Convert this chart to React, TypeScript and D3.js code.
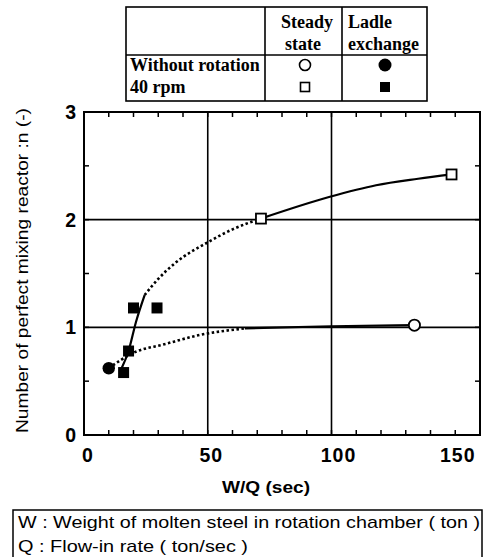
import React, { useRef, useEffect } from 'react';
import * as d3 from 'd3';

// measured points
const steadyNoRotation = [{ x: 133.5, y: 1.02 }];
const ladleNoRotation = [{ x: 10, y: 0.62 }];
const steady40rpm = [{ x: 71.5, y: 2.01 }, { x: 148.5, y: 2.42 }];
const ladle40rpm = [
    { x: 16, y: 0.58 },
    { x: 18, y: 0.78 },
    { x: 20, y: 1.18 },
    { x: 29.5, y: 1.18 },
];

// hand-drawn fit curves
const fit40Solid = [[15.2, 0.62], [18, 0.78], [21, 1.05], [24.5, 1.3]];
const fit40Dotted = [[24.5, 1.3], [30, 1.45], [37, 1.6], [50, 1.79], [60, 1.91], [71.5, 2.01]];
const fit40Upper = [[71.5, 2.01], [99, 2.21], [118, 2.32], [135, 2.38], [148.5, 2.42]];
const fitNoRotDotted = [[10, 0.62], [20.6, 0.77], [32, 0.84], [47, 0.93], [65, 0.99]];
const fitNoRotSolid = [[65, 0.99], [100, 1.01], [133.5, 1.02]];

const xTicks = [0, 50, 100, 150];
const yTicks = [0, 1, 2, 3];
const gridX = [50, 100];
const gridY = [1, 2];

const xLabel = 'W/Q (sec)';
const yLabel = 'Number of perfect mixing reactor :n (-)';
const notes = [
    'W : Weight of molten steel in rotation chamber ( ton )',
    'Q : Flow-in rate ( ton/sec )',
];

const sans = 'Liberation Sans, Arial, sans-serif';
const serif = 'Liberation Serif, Times New Roman, serif';

const App = () => {
    const ref = useRef(null);

    useEffect(() => {
        const svg = d3.select(ref.current);
        svg.selectAll('*').remove();

        const plot = { left: 84, right: 480, top: 112, bottom: 435 };
        const x = d3.scaleLinear().domain([0, 160]).range([plot.left, plot.right]);
        const y = d3.scaleLinear().domain([0, 3]).range([plot.bottom, plot.top]);

        // grid
        gridX.forEach(v => {
            svg.append('line').attr('x1', x(v)).attr('x2', x(v))
                .attr('y1', plot.top).attr('y2', plot.bottom)
                .attr('stroke', '#000').attr('stroke-width', 1.6);
        });
        gridY.forEach(v => {
            svg.append('line').attr('x1', plot.left).attr('x2', plot.right)
                .attr('y1', y(v)).attr('y2', y(v))
                .attr('stroke', '#000').attr('stroke-width', 1.6);
        });

        // minor ticks, inward on all sides
        const tl = 5;
        d3.range(10, 160, 10).forEach(v => {
            svg.append('line').attr('x1', x(v)).attr('x2', x(v))
                .attr('y1', plot.bottom).attr('y2', plot.bottom - tl)
                .attr('stroke', '#000').attr('stroke-width', 1.5);
            svg.append('line').attr('x1', x(v)).attr('x2', x(v))
                .attr('y1', plot.top).attr('y2', plot.top + tl)
                .attr('stroke', '#000').attr('stroke-width', 1.5);
        });
        d3.range(0.5, 3, 0.5).forEach(v => {
            svg.append('line').attr('x1', plot.left).attr('x2', plot.left + tl)
                .attr('y1', y(v)).attr('y2', y(v))
                .attr('stroke', '#000').attr('stroke-width', 1.5);
            svg.append('line').attr('x1', plot.right).attr('x2', plot.right - tl)
                .attr('y1', y(v)).attr('y2', y(v))
                .attr('stroke', '#000').attr('stroke-width', 1.5);
        });

        // frame
        svg.append('rect')
            .attr('x', plot.left).attr('y', plot.top)
            .attr('width', plot.right - plot.left).attr('height', plot.bottom - plot.top)
            .attr('fill', 'none').attr('stroke', '#000').attr('stroke-width', 2);

        // tick labels
        const xOff = [4, 3.5, 7, 2.5];
        xTicks.forEach((v, i) => {
            svg.append('text').attr('x', x(v) + xOff[i]).attr('y', 462)
                .attr('text-anchor', 'middle').attr('font-family', sans)
                .attr('font-weight', 'bold').attr('font-size', 19.5)
                .attr('letter-spacing', 1)
                .text(v);
        });
        yTicks.forEach(v => {
            svg.append('text').attr('x', 76).attr('y', y(v) + 7)
                .attr('text-anchor', 'end').attr('font-family', sans)
                .attr('font-weight', 'bold').attr('font-size', 19.5)
                .text(v);
        });

        // axis titles
        svg.append('text').attr('x', 222).attr('y', 493)
            .attr('font-family', sans).attr('font-weight', 'bold')
            .attr('font-size', 16)
            .attr('textLength', 88).attr('lengthAdjust', 'spacingAndGlyphs')
            .text(xLabel);
        svg.append('text')
            .attr('transform', 'translate(28,433) rotate(-90)')
            .attr('font-family', sans).attr('font-size', 16.5)
            .attr('textLength', 325).attr('lengthAdjust', 'spacingAndGlyphs')
            .text(yLabel);

        // curves
        const line = d3.line().x(d => x(d[0])).y(d => y(d[1])).curve(d3.curveMonotoneX);
        const drawCurve = (pts, dotted) => {
            svg.append('path').attr('d', line(pts))
                .attr('fill', 'none').attr('stroke', '#000')
                .attr('stroke-width', dotted ? 2.6 : 2.2)
                .attr('stroke-dasharray', dotted ? '2.5,2.5' : null);
        };
        drawCurve(fitNoRotDotted, true);
        drawCurve(fitNoRotSolid, false);
        drawCurve(fit40Solid, false);
        drawCurve(fit40Dotted, true);
        drawCurve(fit40Upper, false);

        // markers
        ladleNoRotation.forEach(d => {
            svg.append('circle').attr('cx', x(d.x)).attr('cy', y(d.y)).attr('r', 6.2)
                .attr('fill', '#000');
        });
        steadyNoRotation.forEach(d => {
            svg.append('circle').attr('cx', x(d.x)).attr('cy', y(d.y)).attr('r', 5.6)
                .attr('fill', '#fff').attr('stroke', '#000').attr('stroke-width', 1.8);
        });
        ladle40rpm.forEach(d => {
            svg.append('rect').attr('x', x(d.x) - 5.5).attr('y', y(d.y) - 5.5)
                .attr('width', 11).attr('height', 11).attr('fill', '#000');
        });
        steady40rpm.forEach(d => {
            svg.append('rect').attr('x', x(d.x) - 5).attr('y', y(d.y) - 5)
                .attr('width', 10).attr('height', 10)
                .attr('fill', '#fff').attr('stroke', '#000').attr('stroke-width', 1.8);
        });

        // legend table
        const t = { left: 126, right: 427, c1: 265, c2: 342, top: 7, mid: 55, bottom: 101 };
        const tbl = svg.append('g');
        tbl.append('rect').attr('x', t.left).attr('y', t.top)
            .attr('width', t.right - t.left).attr('height', t.bottom - t.top)
            .attr('fill', 'none').attr('stroke', '#000').attr('stroke-width', 1.6);
        tbl.append('line').attr('x1', t.left).attr('x2', t.right).attr('y1', t.mid).attr('y2', t.mid)
            .attr('stroke', '#000').attr('stroke-width', 1.5);
        [t.c1, t.c2].forEach(cx => {
            tbl.append('line').attr('x1', cx).attr('x2', cx).attr('y1', t.top).attr('y2', t.bottom)
                .attr('stroke', '#000').attr('stroke-width', 1.6);
        });
        const ttext = (tx, ty, s, anchor = 'start') => tbl.append('text')
            .attr('x', tx).attr('y', ty).attr('text-anchor', anchor)
            .attr('font-family', serif).attr('font-weight', 'bold').attr('font-size', 18)
            .text(s);
        ttext(307, 28, 'Steady', 'middle');
        ttext(303, 50, 'state', 'middle');
        ttext(t.c2 + 6, 28, 'Ladle');
        ttext(t.c2 + 6, 50, 'exchange');
        ttext(t.left + 4, 71, 'Without rotation');
        ttext(t.left + 4, 93, '40 rpm');
        const m1 = 305;
        const m2 = 385;
        tbl.append('circle').attr('cx', m1).attr('cy', 65).attr('r', 5.5)
            .attr('fill', '#fff').attr('stroke', '#000').attr('stroke-width', 1.6);
        tbl.append('circle').attr('cx', m2).attr('cy', 65).attr('r', 6.5)
            .attr('fill', '#000');
        tbl.append('rect').attr('x', m1 - 4.5).attr('y', 82.5).attr('width', 9).attr('height', 9)
            .attr('fill', '#fff').attr('stroke', '#000').attr('stroke-width', 1.6);
        tbl.append('rect').attr('x', m2 - 5).attr('y', 82).attr('width', 10).attr('height', 10)
            .attr('fill', '#000');

        // notes box
        svg.append('rect').attr('x', 13).attr('y', 510).attr('width', 469).attr('height', 50)
            .attr('fill', 'none').attr('stroke', '#000').attr('stroke-width', 1.5);
        const noteLen = [462, 230];
        notes.forEach((s, i) => {
            svg.append('text').attr('x', 18).attr('y', 528 + i * 24)
                .attr('font-family', sans).attr('font-size', 17)
                .attr('textLength', noteLen[i]).attr('lengthAdjust', 'spacingAndGlyphs')
                .text(s);
        });
    }, []);

    return (
        <svg ref={ref} width={491} height={557}
            style={{ position: 'absolute', left: 0, top: 0, background: '#fff' }} />
    );
};

export default App;
